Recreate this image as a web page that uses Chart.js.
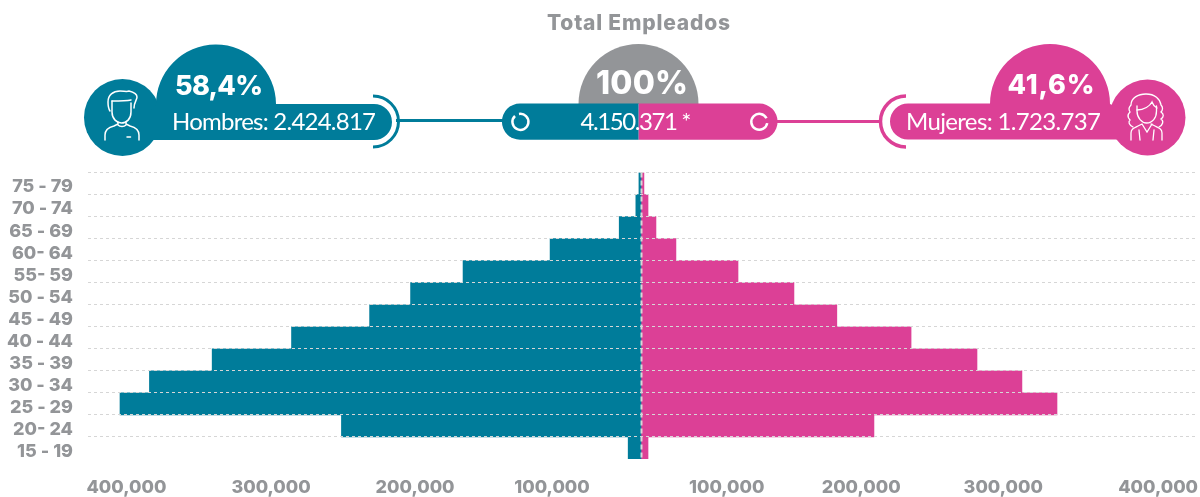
<!DOCTYPE html>
<html>
<head>
<meta charset="utf-8">
<title>Total Empleados</title>
<script src="https://cdn.jsdelivr.net/npm/chart.js@4"></script>
<style>
    html, body { margin: 0; padding: 0; background: #fff; }
    #wrap { position: relative; width: 1200px; height: 497px; overflow: hidden; }
    #pyramid { position: absolute; left: 0; top: 0; }
    #header { position: absolute; left: 0; top: 0; }
    #header text { font-family: Lato, sans-serif; fill: #fff; }
    #header text.heavy { font-family: Inter, sans-serif; font-weight: 800; }
</style>
</head>
<body>
<div id="wrap">
    <canvas id="pyramid" width="1200" height="497"></canvas>
    <svg id="header" width="1200" height="170" viewBox="0 0 1200 170">
        <text class="heavy" x="638.5" y="29.5" text-anchor="middle" font-size="21" textLength="183" style="fill:#939598">Total Empleados</text>

        <!-- men -->
        <line x1="396" y1="120.5" x2="510" y2="120.5" stroke="#007c9a" stroke-width="3"/>
        <circle cx="122.5" cy="117.5" r="38.5" fill="#007c9a"/>
        <path d="M156 105 A60 60 0 0 1 276 104 H374 A18 18 0 0 1 374 140 H120 Z" fill="#007c9a"/>
        <path d="M373 96 A25.5 25.5 0 0 1 373 147" fill="none" stroke="#007c9a" stroke-width="3"/>
        <g fill="none" stroke="#fff" stroke-width="1.5" stroke-linecap="round">
            <path d="M112 101 v11 c0 7 5 11 9.500 11 c5 0 9.500 -4 9.500 -11 v-9"/>
            <path d="M110 111 c-2 -3 -2 -7 -2 -9 c0 -7 5 -11 12 -11 c4 0 7 1 9 0 c4 1 8 3 8 6 c0 3 -3 5 -3 11"/>
            <path d="M112 101 c7 0 14 0 19 -1"/>
            <path d="M105 140 v-5 c0 -6 5 -8 9 -9 l4 -2 v-2 M139 140 v-5 c0 -6 -5 -8 -9 -9 l-4 -2 v-2 M118 125 c2 2 6 2 8 0 M127 137 h3.500"/>
        </g>
        <text class="heavy" x="219" y="94.500" text-anchor="middle" font-size="27" textLength="88">58,4%</text>
        <text x="274" y="130" text-anchor="middle" font-size="24" textLength="204">Hombres: 2.424.817</text>

        <!-- total -->
        <line x1="770" y1="121.5" x2="881" y2="121.5" stroke="#dc4096" stroke-width="3"/>
        <path d="M578.5 104 A60 60 0 0 1 698.5 104 Z" fill="#939598"/>
        <path d="M638.7 103.5 H520 A18 18 0 0 0 520 139.7 H638.7 Z" fill="#007c9a"/>
        <path d="M638.7 103.5 H759.5 A18 18 0 0 1 759.5 139.7 H638.7 Z" fill="#dc4096"/>
        <path d="M515 116 A8 8 0 1 0 519 114" fill="none" stroke="#fff" stroke-width="2.5"/>
        <path d="M766.5 118.3 A8 8 0 1 0 767.2 123.1" fill="none" stroke="#fff" stroke-width="2.5"/>
        <text class="heavy" x="642" y="94" text-anchor="middle" font-size="32" textLength="92">100%</text>
        <text x="636" y="130" text-anchor="middle" font-size="24" textLength="111">4.150.371 *</text>

        <!-- women -->
        <circle cx="1147.5" cy="117.5" r="38" fill="#dc4096"/>
        <path d="M990 104 A60 60 0 0 1 1110 104 L1150 121 V139.5 H908 A18 18 0 0 1 908 103.5 H990 Z" fill="#dc4096"/>
        <path d="M906 96 A25.5 25.5 0 0 0 906 147" fill="none" stroke="#dc4096" stroke-width="3.5"/>
        <g fill="none" stroke="#fff" stroke-width="1.3" stroke-linecap="round">
            <path d="M1137 106 v5 c0 7 5 12 9.500 12 c6 0 10 -5 10 -12 v-5"/>
            <path d="M1137 110 c7 0 13 -4 15 -8 c1 3 3 5 5 6"/>
            <path d="M1133 127 c-4 -2 -5 -5 -3 -7 c-3 -3 -2 -6 0 -8 c-2 -3 -1 -5 1 -7 c0 -7 7 -11 15 -11 c9 0 14 5 15 11 c2 2 2 5 0 7 c3 2 3 5 0 7 c3 2 2 6 -2 8"/>
            <path d="M1131 140 v-7 c0 -4 3 -5 7 -7 l4 -2 M1162 140 v-7 c0 -4 -3 -5 -7 -7 l-4 -2 M1142 124 l5 8 l5 -8 M1139 130 l1 10 M1154 130 l-1 10"/>
        </g>
        <text class="heavy" x="1051" y="94" text-anchor="middle" font-size="27" textLength="87">41,6%</text>
        <text x="1003.5" y="130" text-anchor="middle" font-size="24" textLength="195">Mujeres: 1.723.737</text>
    </svg>
</div>

<script>
    const ageGroups = ['75 - 79', '70 - 74', '65 - 69', '60- 64', '55- 59', '50 - 54', '45 - 49',
        '40 - 44', '35 - 39', '30 - 34', '25 - 29', '20- 24', '15 - 19'];
    const hombres = [-1600, -4000, -17000, -71000, -139000, -180000, -212000,
        -273000, -335000, -384000, -407000, -234000, -10000];
    const mujeres = [2300, 5500, 11700, 27300, 75800, 119500, 153000,
        211000, 262500, 297600, 325000, 182000, 5500];
    // the printed axis labels don't sit evenly in the source, so these follow where they were placed
    const axisValues = [-402000, -289000, -176500, -69500, 67000, 172000, 283000, 404000];
    const axisLabels = ['400,000', '300,000', '200,000', '100,000', '100,000', '200,000', '300,000', '400,000'];

    const grey = '#939598';
    const dashes = '#d6d6d6';

    // dashed line down the middle, on top of the bars
    const centerLine = {
        id: 'centerLine',
        afterDatasetsDraw(chart) {
            const { ctx, chartArea, scales } = chart;
            const px = Math.round(scales.x.getPixelForValue(0)) + 0.5;
            ctx.save();
            ctx.strokeStyle = dashes;
            ctx.lineWidth = 2;
            ctx.setLineDash([5, 3]);
            ctx.beginPath();
            ctx.moveTo(px, chartArea.top);
            ctx.lineTo(px, chartArea.bottom);
            ctx.stroke();
            ctx.restore();
        }
    };

    new Chart(document.getElementById('pyramid').getContext('2d'), {
        type: 'bar',
        plugins: [centerLine],
        data: {
            labels: ageGroups,
            datasets: [{
                label: 'Hombres',
                data: hombres,
                backgroundColor: '#007c9a',
                categoryPercentage: 1,
                barPercentage: 1
            }, {
                label: 'Mujeres',
                data: mujeres,
                backgroundColor: '#dc4096',
                categoryPercentage: 1,
                barPercentage: 1
            }]
        },
        options: {
            indexAxis: 'y',
            responsive: false,
            animation: false,
            layout: { padding: { top: 172.5, right: 4, left: 0, bottom: 0 } },
            plugins: { legend: { display: false }, tooltip: { enabled: false } },
            scales: {
                x: {
                    stacked: true,
                    min: -432000,
                    max: 433600,
                    afterBuildTicks: scale => {
                        scale.ticks = axisValues.map(v => ({ value: v }));
                    },
                    afterFit: scale => {
                        scale.height = 38;
                        // labels must not squeeze the plot area
                        scale.paddingLeft = 0;
                        scale.paddingRight = 0;
                    },
                    border: { display: false },
                    grid: { display: false, drawTicks: false },
                    ticks: {
                        autoSkip: false,
                        maxRotation: 0,
                        padding: 18,
                        color: grey,
                        font: { family: 'Inter', size: 18, weight: '800' },
                        callback: (value, i) => axisLabels[i]
                    }
                },
                y: {
                    stacked: true,
                    afterFit: scale => { scale.width = 88; },
                    border: { display: false, dash: [3, 3] },
                    grid: {
                        z: 1,
                        drawTicks: false,
                        lineWidth: 1,
                        color: ctx => (ctx.tick ? dashes : 'transparent')
                    },
                    ticks: {
                        autoSkip: false,
                        padding: 15,
                        labelOffset: 3.5,
                        color: grey,
                        font: { family: 'Inter', size: 18, weight: '800' }
                    }
                }
            }
        }
    });
</script>
</body>
</html>
